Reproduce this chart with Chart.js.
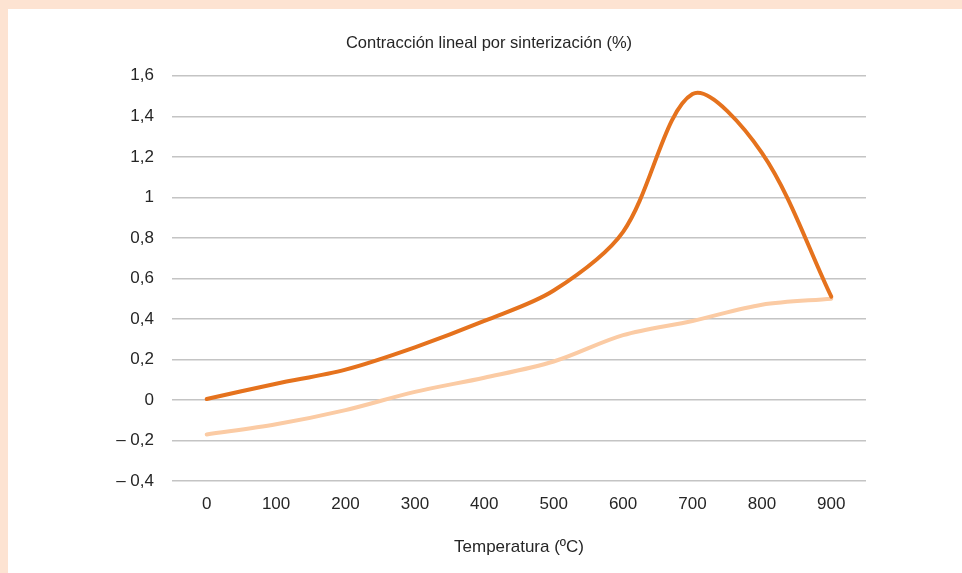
<!DOCTYPE html>
<html>
<head>
<meta charset="utf-8">
<script src="https://cdn.jsdelivr.net/npm/chart.js@4.4.0/dist/chart.umd.min.js"></script>
<style>
  html, body { margin: 0; padding: 0; background: #fde3d2; }
  #wrap { position: absolute; left: 8px; top: 9px; width: 954px; height: 564px; background: #ffffff; }
</style>
</head>
<body>
<div id="wrap"><canvas id="myChart" width="954" height="564"></canvas></div>
<script>
//////////////////////
// data
//////////////////////
const temperatures = ['0', '100', '200', '300', '400', '500', '600', '700', '800', '900'];
const darkSeries = [0.005, 0.08, 0.15, 0.26, 0.39, 0.54, 0.83, 1.51, 1.22, 0.51];
const lightSeries = [-0.17, -0.12, -0.05, 0.04, 0.11, 0.19, 0.32, 0.39, 0.47, 0.50];
const yTicks = [-0.4, -0.2, 0, 0.2, 0.4, 0.6, 0.8, 1, 1.2, 1.4, 1.6];

const chartTitle = 'Contracción lineal por sinterización (%)';
const xTitle = 'Temperatura (ºC)';

const fontFamily = "'Liberation Sans', Arial, sans-serif";
const textColor = '#262626';

function formatTick(value) {
  const abs = Math.abs(Math.round(value * 10) / 10);
  const txt = String(abs).replace('.', ',');
  return value < -0.001 ? '– ' + txt : txt;
}

const data = {
  labels: temperatures,
  datasets: [{
    label: 'A',
    data: darkSeries,
    borderColor: '#e5721d',
    borderWidth: 4,
    pointRadius: 0,
    tension: 0.32,
    borderCapStyle: 'round',
    order: 1
  },
  {
    label: 'B',
    data: lightSeries,
    borderColor: '#fbcba4',
    borderWidth: 4,
    pointRadius: 0,
    tension: 0.32,
    borderCapStyle: 'round',
    order: 2
  }]
};

const config = {
  type: 'line',
  data: data,
  options: {
    responsive: false,
    animation: false,
    layout: {
      padding: { top: 25, right: 0, bottom: 0, left: 8 }
    },
    plugins: {
      legend: { display: false },
      tooltip: { enabled: false },
      title: {
        display: true,
        text: chartTitle,
        color: textColor,
        font: { family: fontFamily, size: 16.5, weight: 'normal' },
        padding: { top: 0, bottom: 22 }
      }
    },
    scales: {
      x: {
        offset: true,
        grid: { display: false, drawTicks: false },
        border: { display: false },
        ticks: {
          color: textColor,
          padding: 13,
          maxRotation: 0,
          font: { family: fontFamily, size: 17 }
        },
        title: {
          display: true,
          text: xTitle,
          color: textColor,
          font: { family: fontFamily, size: 17 },
          padding: { top: 0, bottom: 15 }
        },
        afterFit: function (scale) { scale.height = 92; }
      },
      y: {
        min: -0.4,
        max: 1.6,
        afterBuildTicks: function (scale) {
          scale.ticks = yTicks.map(function (v) { return { value: v }; });
        },
        grid: { color: '#c4c4c4', lineWidth: 1.5, drawTicks: false },
        border: { display: false },
        ticks: {
          color: textColor,
          padding: 18,
          font: { family: fontFamily, size: 17 },
          callback: function (value) { return formatTick(value); }
        },
        afterFit: function (scale) { scale.width = 156; }
      },
      // empty right-hand axis, only keeps the plot's right margin
      yRight: {
        position: 'right',
        display: true,
        grid: { display: false, drawTicks: false },
        border: { display: false },
        ticks: { display: false },
        afterFit: function (scale) { scale.width = 96; }
      }
    }
  }
};

const canvasChart = document.getElementById('myChart');
const myChart = new Chart(canvasChart, config);
</script>
</body>
</html>
